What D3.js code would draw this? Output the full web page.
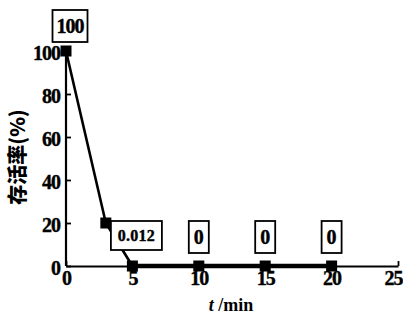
<!DOCTYPE html>
<html><head><meta charset="utf-8">
<script src="https://cdn.jsdelivr.net/npm/d3@7"></script>
<style>
html,body{margin:0;padding:0;background:#fff;}
svg{display:block;}
</style></head>
<body>
<svg id="c" width="403" height="317"></svg>
<script>
const times = [0, 3, 5, 10, 15, 20];
const survival = [100, 20, 0, 0, 0, 0];
const annoTimes = [0, 5, 10, 15, 20];
const annoTexts = ["100", "0.012", "0", "0", "0"];
const xTicks = [0, 5, 10, 15, 20, 25];
const yTicks = [0, 20, 40, 60, 80, 100];
const yTitle = "存活率(%)";

const SERIF = "'Liberation Serif', serif";
const svg = d3.select("#c");
const x = d3.scaleLinear().domain([0, 25]).range([66, 398]);
const y = d3.scaleLinear().domain([0, 100]).range([266, 51]);

const gy = svg.append("g").attr("transform", `translate(${x(0)},0)`)
  .call(d3.axisLeft(y).tickValues(yTicks).tickSize(-5).tickSizeOuter(0).tickPadding(6));
const gx = svg.append("g").attr("transform", `translate(0,${y(0)})`)
  .call(d3.axisBottom(x).tickValues(xTicks).tickSize(-5).tickSizeOuter(0).tickPadding(5));
[gx, gy].forEach(g => {
  g.attr("font-family", null).attr("font-size", null);
  g.select(".domain").attr("stroke", "#000").attr("stroke-width", 2.2);
  g.selectAll(".tick line").attr("stroke", "#000").attr("stroke-width", 1.8);
  g.selectAll(".tick text").style("font-size", "20px").style("font-family", SERIF)
    .style("font-weight", "bold").attr("fill", "#000").attr("stroke", "#000")
    .attr("stroke-width", 0.4).attr("letter-spacing", -1);
});
gy.selectAll(".tick text").attr("dy", "0.4em");
gx.selectAll(".tick text").filter(d => d === 25).attr("dx", -5);
gy.select(".domain").attr("d", `M0,${y(0)}V${y(100) - 3}`);

const pts = times.map((t, i) => [t, survival[i]]);
const line = d3.line().x(d => x(d[0])).y(d => y(d[1]));
svg.append("path").datum(pts.slice(0, 3)).attr("d", line)
  .attr("fill", "none").attr("stroke", "#000").attr("stroke-width", 2.6);
svg.append("path").datum(pts.slice(2)).attr("d", line)
  .attr("fill", "none").attr("stroke", "#000").attr("stroke-width", 4.5);

svg.selectAll("rect.m").data(pts).enter().append("rect").attr("class", "m")
  .attr("x", d => x(d[0]) - 5.5).attr("y", d => y(d[1]) - 5.5)
  .attr("width", 11).attr("height", 11).attr("fill", "#000");

const annoStyle = {
  "100":  {w: 35, h: 32, top: 10, dx: 4, fs: 20, ls: -1},
  "0.012":{w: 51, h: 29, top: 221, dx: 4, fs: 16, ls: 0.3},
  "0":    {w: 20, h: 32, top: 221, dx: 0, fs: 20, ls: 0}
};
annoTimes.forEach((t, i) => {
  const txt = annoTexts[i];
  const s = annoStyle[txt];
  const cx = x(t) + s.dx;
  svg.append("rect").attr("x", cx - s.w / 2).attr("y", s.top)
    .attr("width", s.w).attr("height", s.h)
    .attr("fill", "#fff").attr("stroke", "#000").attr("stroke-width", 1.8);
  svg.append("text").attr("x", cx).attr("y", s.top + s.h / 2)
    .attr("dy", "0.35em").attr("text-anchor", "middle")
    .style("font-family", SERIF).style("font-weight", "bold")
    .style("font-size", s.fs + "px").attr("letter-spacing", s.ls)
    .attr("stroke", "#000").attr("stroke-width", 0.4)
    .text(txt);
});

svg.append("text").attr("transform", `translate(25,157) rotate(-90)`)
  .attr("text-anchor", "middle")
  .style("font-family", "'Noto Sans CJK SC', sans-serif").style("font-weight", "900")
  .style("font-size", "20px").text(yTitle);

const xt = svg.append("text").attr("x", 231).attr("y", 311).attr("text-anchor", "middle")
  .style("font-family", SERIF).style("font-weight", "bold").style("font-size", "18px");
xt.append("tspan").style("font-style", "italic").text("t");
xt.append("tspan").text(" /min");
</script>
</body></html>
